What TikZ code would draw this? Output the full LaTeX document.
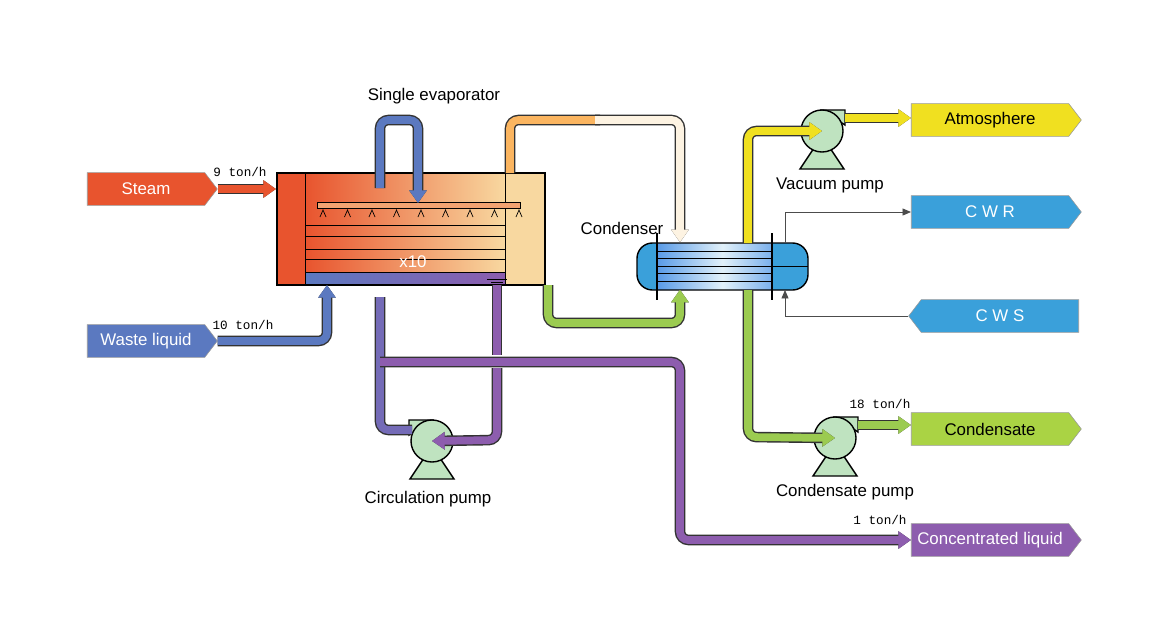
\documentclass[tikz,border=0pt]{standalone}
\usepackage{fontspec}
\setmainfont{Liberation Sans}
\newfontfamily\monof{Liberation Mono}
\usetikzlibrary{positioning, arrows.meta, shapes.symbols}
\definecolor{steamc}{HTML}{E8542E}
\definecolor{wastec}{HTML}{5B79C0}
\definecolor{purplec}{HTML}{8D5DAE}
\definecolor{greenc}{HTML}{9BCB50}
\definecolor{yellowc}{HTML}{F0E020}
\definecolor{cwc}{HTML}{3AA0DA}
\definecolor{pumpc}{HTML}{BFE3C0}
\definecolor{peachc}{HTML}{F8D8A0}
\tikzset{
    tag/.style={signal, signal to=east, signal pointer angle=105, draw=black!40, fill=#1,
        minimum width=3.25cm, minimum height=0.82cm, text=white, font=\large, inner sep=1pt},
    wide/.style={minimum width=4.25cm},
    pipe/.style={line width=5.5pt, draw=#1, rounded corners=6pt,
        preaction={draw=black!80, line width=7.5pt}},
    tip/.style={-{Triangle[length=9pt,width=12pt]}},
    thin arrow/.style={draw=black!70, line width=0.6pt, -{Triangle[length=6pt,width=5pt]}},
    rate/.style={font=\monof\small},
    caption/.style={font=\large},
    pump/.pic={
        \filldraw[fill=pumpc, line width=1pt] (-22,38) -- (22,38) -- (0,5) -- cycle;
        \filldraw[fill=pumpc, line width=1pt] (0,-21) -- (23,-21) -- (23,-6) -- cycle;
        \node[circle, draw, line width=1pt, fill=pumpc, minimum size=1.05cm, inner sep=0pt] (-body) at (0,0) {};
    }
}

\begin{document}
\begin{tikzpicture}[x=0.025cm, y=-0.025cm]
    \useasboundingbox (0,0) rectangle (1160,640);

    % tags
    \node[tag=steamc] (steam) at (146,189) {Steam};
    \node[tag=wastec] (waste) at (146,341) {Waste liquid};
    \node[tag=yellowc, wide, text=black] (atmos) at (990,120) {Atmosphere};
    \node[tag=cwc, wide] (cwr) at (990,212) {C W R};
    \node[tag=cwc, wide, signal to=west] (cws) at (1000,316) {C W S};
    \node[tag=greenc!85!yellow, wide, text=black] (cond out) at (990,429) {Condensate};
    \node[tag=purplec, wide] (conc) at (990,540) {Concentrated liquid};

    % evaporator
    \node[draw, line width=1.4pt, minimum width=6.7cm, minimum height=2.8cm, inner sep=0pt] (evap) at (411,229) {};
    \shade[left color=steamc, right color=peachc] (305,173) rectangle (505,272);
    \fill[steamc] (277,173) rectangle (305,285);
    \fill[peachc] (505,173) rectangle (545,285);
    \shade[left color=wastec, right color=purplec] (305,272) rectangle (505,285);
    \draw[line width=0.6pt] (305,173) -- (305,285) (505,173) -- (505,285)
        (305,225) -- (505,225) (305,236) rectangle (505,249) (305,259) -- (505,259) -- (505,272)
        (305,272) -- (505,272);
    \draw[line width=0.5pt, fill=steamc!40!peachc] (317,202) rectangle (520,208);
    \foreach \k in {0,...,8}
        \draw[line width=0.5pt] (320+\k*24.5,217) -- (323+\k*24.5,210) -- (326+\k*24.5,217);
    \draw[line width=0.5pt] (487,279) -- (507,279) (491,282) -- (503,282);
    \node[text=white, font=\large] (x10) at (413,262) {x10};
    \draw[line width=1.4pt] (277,173) rectangle (545,285);
    \node[caption] (evap lbl) at (434,96) {Single evaporator};

    % condenser
    \shade[left color=cwc!80!blue, right color=cwc!80!blue, middle color=white!85!cwc]
        [rounded corners=11pt] (637,243) rectangle (808,290);
    \begin{scope}
        \clip[rounded corners=11pt] (637,243) rectangle (808,290);
        \fill[cwc] (772,243) rectangle (808,290);
        \fill[cwc] (637,243) rectangle (657,290);
    \end{scope}
    \draw[line width=1pt, rounded corners=11pt] (637,243) rectangle (808,290);
    \node[inner sep=0pt, minimum width=4.27cm, minimum height=1.17cm] (cond) at (722,266) {};
    \foreach \y in {251,258,266,273,281}
        \draw[line width=0.6pt] (657,\y) -- (772,\y);
    \draw[line width=0.6pt] (772,266) -- (808,266);
    \draw[line width=1pt] (657,233) -- (657,300) (772,233) -- (772,300);
    \node[caption] (cond lbl) at (622,228) {Condenser};

    % pumps
    \pic[xscale=-1] (cpump) at (432,441) {pump};
    \pic (vpump) at (822,131) {pump};
    \pic (kpump) at (835,438) {pump};
    \node[caption] (cpump lbl) at (428,499) {Circulation pump};
    \node[caption] (vpump lbl) at (830,185) {Vacuum pump};
    \node[caption] (kpump lbl) at (845,492) {Condensate pump};

    % pipes
    \draw[pipe=steamc, tip] (steam.east) -- (evap.west |- steam.east);
    \draw[pipe=wastec, tip] (waste.east) -| (327,285);
    \draw[pipe=wastec, tip] (380,188) -- (380,120) -- (418,120) -- (418,203);
    \draw[pipe=peachc!60!orange] (510,173) -- (510,120) -- (600,120);
    \draw[pipe=peachc!30!white, tip] (595,120) -- (680,120) -- (cond.north -| 680,0);
    \draw[pipe=purplec] (497,285) -- (497,355);
    \draw[pipe=purplec, tip] (497,368) -- (497,440) -- (cpump-body.center);
    \draw[pipe=wastec!50!purplec] (380,297) -- (380,430) -- (412,430);
    \draw[pipe=purplec, tip] (380,362) -- (680,362) -- (680,540) -- (conc.west);
    \draw[pipe=greenc, tip] (548,285) -- (548,323) -- (680,323) -- (cond.south -| 680,0);
    \draw[pipe=yellowc, tip] (748,243) -- (748,131) -- (vpump-body.center);
    \draw[pipe=yellowc, tip] (845,118) -- (atmos.west |- 0,118);
    \draw[pipe=greenc, tip] (748,290) -- (748,437) -- (kpump-body.center);
    \draw[pipe=greenc, tip] (858,425) -- (cond out.west |- 0,425);
    \draw[thin arrow] (785,243) |- (cwr.west);
    \draw[thin arrow] (cws.west) -| (785,290);

    % flow rates
    \node[rate] (steam rate) at (240,172) {9 ton/h};
    \node[rate] (waste rate) at (243,325) {10 ton/h};
    \node[rate] (cond rate) at (880,404) {18 ton/h};
    \node[rate] (conc rate) at (880,520) {1 ton/h};
\end{tikzpicture}
\end{document}
